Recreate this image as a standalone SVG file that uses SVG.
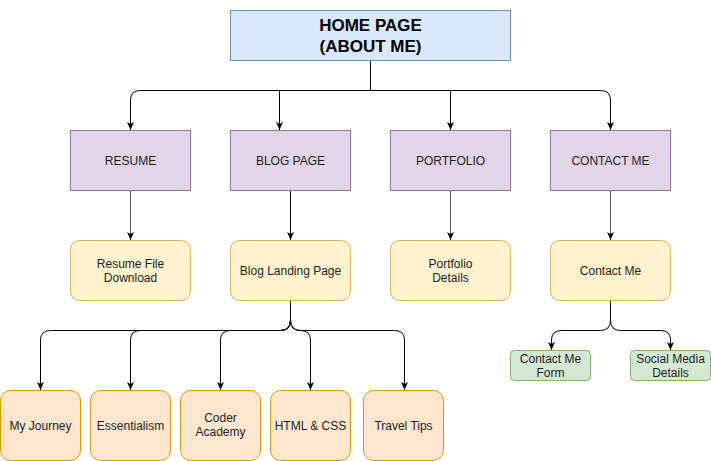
<svg xmlns="http://www.w3.org/2000/svg" width="711" height="461" viewBox="0 0 711 461">
  <defs>
    <marker id="arrow" viewBox="0 0 8 7" refX="8" refY="3.5" markerWidth="8" markerHeight="7" markerUnits="userSpaceOnUse" orient="auto">
      <path d="M0,0 L8,3.5 L0,7 L2,3.5 z" fill="#000"/>
    </marker>
    <style>
      text { font-family: "Liberation Sans", Arial, Helvetica, sans-serif; font-size: 12px; fill: #1e1e1e; text-anchor: middle; }
      .title { font-size: 17px; font-weight: bold; fill: #000; }
      .home { fill: #dae8fc; stroke: #6c8ebf; stroke-width: 1; }
      .section { fill: #e1d5e7; stroke: #9673a6; stroke-width: 1; }
      .page { fill: #fff2cc; stroke: #d6b656; stroke-width: 1; }
      .post { fill: #ffe6cc; stroke: #d79b00; stroke-width: 1; }
      .form { fill: #d5e8d4; stroke: #82b366; stroke-width: 1; }
      .edge { fill: none; stroke: #000; stroke-width: 1; marker-end: url(#arrow); }
      .edge.grey { stroke: #555; }
    </style>
  </defs>

  <rect width="711" height="461" fill="#fff"/>

  <!-- connectors, offset half a pixel so 1px strokes stay crisp -->
  <g id="connectors" transform="translate(0.5,0)">
    <path class="edge" d="M370,60 V90.5 H140 Q130,90.5 130,100 V130"/>
    <path class="edge" d="M370,60 V90.5 H279 V130"/>
    <path class="edge" d="M370,60 V90.5 H450 V130"/>
    <path class="edge" d="M370,60 V90.5 H600 Q610,90.5 610,100 V130"/>

    <path class="edge grey" d="M130,190 V240"/>
    <path class="edge" d="M290,190 V240"/>
    <path class="edge grey" d="M450,190 V240"/>
    <path class="edge grey" d="M610,190 V240"/>

    <path class="edge" d="M290,300 V320 Q290,330.5 280,330.5 H50 Q40,330.5 40,340 V390"/>
    <path class="edge" d="M290,300 V320 Q290,330.5 280,330.5 H140 Q130,330.5 130,340 V390"/>
    <path class="edge" d="M290,300 V320 Q290,330.5 280,330.5 H230 Q220,330.5 220,340 V390"/>
    <path class="edge" d="M290,300 V320 Q290,330.5 300,330.5 Q310,330.5 310,340 V390"/>
    <path class="edge" d="M290,300 V320 Q290,330.5 300,330.5 H394 Q404,330.5 404,340 V390"/>

    <path class="edge" d="M610,300 V320 Q610,330.5 600,330.5 H561 Q551,330.5 551,340 V350"/>
    <path class="edge" d="M610,300 V320 Q610,330.5 620,330.5 H660 Q670,330.5 670,340 V350"/>
  </g>

  <!-- top -->
  <g id="home">
    <rect class="home" x="230.5" y="10.5" width="280" height="50"/>
    <text class="title" x="370.5" y="31">HOME PAGE</text>
    <text class="title" x="370.5" y="52">(ABOUT ME)</text>
  </g>

  <!-- sections -->
  <g id="resume">
    <rect class="section" x="70.5" y="130.5" width="120" height="60"/>
    <text x="130.5" y="164.5">RESUME</text>
  </g>
  <g id="blog">
    <rect class="section" x="230.5" y="130.5" width="120" height="60"/>
    <text x="290.5" y="164.5">BLOG PAGE</text>
  </g>
  <g id="portfolio">
    <rect class="section" x="390.5" y="130.5" width="120" height="60"/>
    <text x="450.5" y="164.5">PORTFOLIO</text>
  </g>
  <g id="contact">
    <rect class="section" x="550.5" y="130.5" width="120" height="60"/>
    <text x="610.5" y="164.5">CONTACT ME</text>
  </g>

  <!-- pages -->
  <g id="resume-download">
    <rect class="page" x="70.5" y="240.5" width="120" height="60" rx="9"/>
    <text x="130.5" y="268">Resume File</text>
    <text x="130.5" y="282">Download</text>
  </g>
  <g id="blog-landing">
    <rect class="page" x="230.5" y="240.5" width="120" height="60" rx="9"/>
    <text x="290.5" y="275">Blog Landing Page</text>
  </g>
  <g id="portfolio-details">
    <rect class="page" x="390.5" y="240.5" width="120" height="60" rx="9"/>
    <text x="450.5" y="268">Portfolio</text>
    <text x="450.5" y="282">Details</text>
  </g>
  <g id="contact-page">
    <rect class="page" x="550.5" y="240.5" width="120" height="60" rx="9"/>
    <text x="610.5" y="275">Contact Me</text>
  </g>

  <!-- blog posts -->
  <g id="my-journey">
    <rect class="post" x="0.5" y="390.5" width="80" height="70" rx="10"/>
    <text x="40.5" y="430">My Journey</text>
  </g>
  <g id="essentialism">
    <rect class="post" x="90.5" y="390.5" width="80" height="70" rx="10"/>
    <text x="130.5" y="430">Essentialism</text>
  </g>
  <g id="coder-academy">
    <rect class="post" x="180.5" y="390.5" width="80" height="70" rx="10"/>
    <text x="220.5" y="422">Coder</text>
    <text x="220.5" y="436">Academy</text>
  </g>
  <g id="html-css">
    <rect class="post" x="270.5" y="390.5" width="80" height="70" rx="10"/>
    <text x="310.5" y="430">HTML &amp; CSS</text>
  </g>
  <g id="travel-tips">
    <rect class="post" x="363.5" y="390.5" width="80" height="70" rx="10"/>
    <text x="403.5" y="430">Travel Tips</text>
  </g>

  <!-- contact children -->
  <g id="contact-form">
    <rect class="form" x="510.5" y="350.5" width="80" height="30" rx="4"/>
    <text x="550.5" y="363">Contact Me</text>
    <text x="550.5" y="377">Form</text>
  </g>
  <g id="social-media">
    <rect class="form" x="630.5" y="350.5" width="80" height="30" rx="4"/>
    <text x="670.5" y="363">Social Media</text>
    <text x="670.5" y="377">Details</text>
  </g>
</svg>
